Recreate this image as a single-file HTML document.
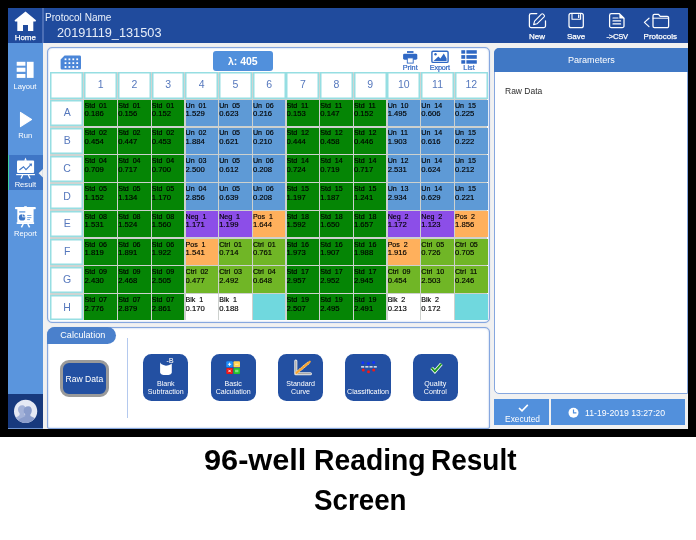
<!DOCTYPE html>
<html lang="en">
<head>
<meta charset="utf-8">
<title>96-well Reading Result Screen</title>
<style>
html,body{margin:0;padding:0;}
body{width:696px;height:540px;position:relative;overflow:hidden;background:#fff;font-family:"Liberation Sans",sans-serif;}
div,span,i,b{box-sizing:border-box;}
.abs{position:absolute;}
#frame{position:absolute;left:0;top:0;width:696px;height:436.6px;background:#000;}
#screen{position:absolute;left:8px;top:8px;width:680px;height:420.9px;background:#f1f1f1;overflow:hidden;}
#hdr{position:absolute;left:8px;top:8px;width:680px;height:34.6px;background:#204b9d;}
#homesep{position:absolute;left:42.1px;top:8px;width:1.6px;height:34.6px;background:#4c6fb6;}
#side{position:absolute;left:8px;top:42.6px;width:34.8px;height:351.4px;background:#5a95dd;}
#act{position:absolute;left:8px;top:155px;width:34.8px;height:35px;background:#3f76c6;border-left:1.3px solid #3fd0a0;}
#sidebot{position:absolute;left:8px;top:393.8px;width:34.9px;height:33.9px;background:#17397d;}
#sidebot2{position:absolute;left:8px;top:427.6px;width:34.9px;height:1px;background:#6d93d0;}
.t{position:absolute;color:#fff;white-space:nowrap;line-height:1;}
.c{transform:translateX(-50%);text-align:center;}
#main{position:absolute;left:47px;top:47px;width:443.3px;height:275.8px;background:#fff;border:1.2px solid #86a7df;border-radius:5px;box-shadow:0 0 1px rgba(110,150,215,.45), inset 0 0 1.6px rgba(110,150,215,.9);}
#tblbg{position:absolute;left:50.1px;top:72.1px;width:437.4px;height:247.8px;background:#cfd4d2;}
.hc{position:absolute;top:72.1px;width:32.8px;height:26.6px;background:#fff;box-shadow:inset 0 0 0 1.5px #96dee2;padding-top:1px;color:#5678bd;font-size:10.5px;line-height:23.9px;text-align:center;}
.rc{position:absolute;left:50.1px;width:32.9px;height:25.8px;background:#fff;box-shadow:inset 0 0 0 1.5px #96dee2;padding-top:1px;color:#5678bd;font-size:10.5px;line-height:23.5px;text-align:center;text-indent:1.2px;}
.dc{position:absolute;width:32.5px;height:26.38px;color:#000;overflow:hidden;white-space:nowrap;}
.dc i{position:absolute;left:0px;top:2.7px;font-style:normal;font-size:7.1px;line-height:7px;word-spacing:1.9px;-webkit-text-stroke:0.15px #000;}
.dc b{position:absolute;left:0px;top:10.5px;font-weight:normal;font-size:7.7px;line-height:8px;-webkit-text-stroke:0.15px #000;}
#lam{position:absolute;left:212.7px;top:51.1px;width:60.3px;height:19.7px;background:#5190dc;border-radius:3px;color:#fff;font-size:10.5px;font-weight:bold;line-height:21.2px;text-align:center;}
.tb{position:absolute;color:#2f64c0;-webkit-text-stroke:0.2px #2f64c0;font-size:7.3px;line-height:1;white-space:nowrap;transform:translateX(-50%);}
#calc{position:absolute;left:47px;top:326.5px;width:443.3px;height:102.5px;background:#fff;border:1.2px solid #86a7df;border-radius:8px 5px 2px 2px;box-shadow:0 0 1px rgba(110,150,215,.45), inset 0 0 1.6px rgba(110,150,215,.9);}
#ctab{position:absolute;text-indent:2.6px;left:47px;top:326.8px;width:69px;height:17.2px;background:#4a80cc;border-radius:8px 9px 9px 0;color:#fff;font-size:9.1px;line-height:17.6px;text-align:center;}
#cline{position:absolute;left:127px;top:337.5px;width:1px;height:80px;background:#b4c9ee;}
#raw{position:absolute;left:60px;top:359.5px;width:48.8px;height:37.8px;background:#2350a2;border:3px solid #9a9a9a;border-radius:9px;color:#fff;font-size:8.6px;line-height:32.6px;text-align:center;white-space:nowrap;}
.cb{position:absolute;top:353.8px;width:45.3px;height:47.3px;background:#2350a2;border-radius:8.5px;}
.cbt{position:absolute;color:#fff;font-size:7.1px;line-height:8.4px;text-align:center;white-space:nowrap;transform:translateX(-50%);}
#rp{position:absolute;left:494.4px;top:47.9px;width:194px;height:346.6px;background:#fff;border:1.2px solid #86a7df;border-radius:5px 0 0 5px;overflow:hidden;}
#rph{position:absolute;left:494.4px;top:47.9px;width:194px;height:24.1px;background:#4078c5;border-radius:5px 0 0 0;color:#fff;font-size:9.05px;line-height:24.1px;text-align:center;}
.st{position:absolute;top:399.1px;height:25.7px;background:#5290dc;}
.cap{position:absolute;font-size:30px;font-weight:bold;color:#000;white-space:nowrap;line-height:1;transform-origin:0 0;}
</style>
</head>
<body>
<div id="frame"></div>
<div id="screen"></div>
<div id="hdr"></div>
<div id="homesep"></div>
<div id="side"></div>
<div id="act"></div>
<div id="sidebot"></div><div id="sidebot2"></div>

<div class="t" style="left:45px;top:13px;font-size:10.05px;color:#eaf0fb;">Protocol Name</div>
<div class="t" style="left:57px;top:27.3px;font-size:12.75px;color:#e6edf9;">20191119_131503</div>

<div class="t c" style="left:25.3px;top:33.9px;font-size:8px;-webkit-text-stroke:0.25px #fff;">Home</div>
<div class="t c" style="left:25px;top:82.7px;font-size:7.6px;">Layout</div>
<div class="t c" style="left:25.3px;top:131.5px;font-size:7.6px;">Run</div>
<div class="t c" style="left:25.4px;top:180.9px;font-size:7.6px;">Result</div>
<div class="t c" style="left:25.4px;top:229.6px;font-size:7.6px;">Report</div>

<div class="t c" style="left:537px;top:33px;font-size:8px;-webkit-text-stroke:0.25px #fff;">New</div>
<div class="t c" style="left:576.1px;top:33px;font-size:8px;-webkit-text-stroke:0.25px #fff;">Save</div>
<div class="t c" style="left:617.2px;top:33px;font-size:7.6px;letter-spacing:-0.25px;-webkit-text-stroke:0.25px #fff;">-&gt;CSV</div>
<div class="t c" style="left:660.3px;top:33px;font-size:8px;-webkit-text-stroke:0.25px #fff;">Protocols</div>

<div id="main"></div>
<div id="tblbg"></div><div class="abs" style="left:83.9px;top:99.1px;width:403.6px;height:220.8px;background:#cdd1ce;"></div>
<div id="lam">λ: 405</div>
<div class="tb" style="left:410.2px;top:64px;">Print</div>
<div class="tb" style="left:439.8px;top:64px;letter-spacing:-0.2px;">Export</div>
<div class="tb" style="left:469px;top:64px;">List</div>
<div class="hc" style="left:50.1px;width:32.9px"></div>
<div class="hc" style="left:84.32px">1</div>
<div class="hc" style="left:118.01px">2</div>
<div class="hc" style="left:151.69px">3</div>
<div class="hc" style="left:185.38px">4</div>
<div class="hc" style="left:219.06px">5</div>
<div class="hc" style="left:252.75px">6</div>
<div class="hc" style="left:286.43px">7</div>
<div class="hc" style="left:320.12px">8</div>
<div class="hc" style="left:353.80px">9</div>
<div class="hc" style="left:387.49px">10</div>
<div class="hc" style="left:421.17px">11</div>
<div class="hc" style="left:454.86px">12</div>
<div class="rc" style="top:100.30px">A</div>
<div class="dc" style="left:84.47px;top:99.80px;background:#058505"><i style="top:3.4px">Std 01</i><b>0.186</b></div>
<div class="dc" style="left:118.16px;top:99.80px;background:#058505"><i style="top:3.4px">Std 01</i><b>0.156</b></div>
<div class="dc" style="left:151.84px;top:99.80px;background:#058505"><i style="top:3.4px">Std 01</i><b>0.152</b></div>
<div class="dc" style="left:185.53px;top:99.80px;background:#5e9ad6"><i style="top:3.4px">Un 01</i><b>1.529</b></div>
<div class="dc" style="left:219.21px;top:99.80px;background:#5e9ad6"><i style="top:3.4px">Un 05</i><b>0.623</b></div>
<div class="dc" style="left:252.90px;top:99.80px;background:#5e9ad6"><i style="top:3.4px">Un 06</i><b>0.216</b></div>
<div class="dc" style="left:286.58px;top:99.80px;background:#058505"><i style="top:3.4px">Std 11</i><b>0.153</b></div>
<div class="dc" style="left:320.27px;top:99.80px;background:#058505"><i style="top:3.4px">Std 11</i><b>0.147</b></div>
<div class="dc" style="left:353.95px;top:99.80px;background:#058505"><i style="top:3.4px">Std 11</i><b>0.152</b></div>
<div class="dc" style="left:387.64px;top:99.80px;background:#5e9ad6"><i style="top:3.4px">Un 10</i><b>1.495</b></div>
<div class="dc" style="left:421.32px;top:99.80px;background:#5e9ad6"><i style="top:3.4px">Un 14</i><b>0.606</b></div>
<div class="dc" style="left:455.01px;top:99.80px;background:#5e9ad6"><i style="top:3.4px">Un 15</i><b>0.225</b></div>
<div class="rc" style="top:128.08px">B</div>
<div class="dc" style="left:84.47px;top:127.58px;background:#058505"><i>Std 02</i><b>0.454</b></div>
<div class="dc" style="left:118.16px;top:127.58px;background:#058505"><i>Std 02</i><b>0.447</b></div>
<div class="dc" style="left:151.84px;top:127.58px;background:#058505"><i>Std 02</i><b>0.453</b></div>
<div class="dc" style="left:185.53px;top:127.58px;background:#5e9ad6"><i>Un 02</i><b>1.884</b></div>
<div class="dc" style="left:219.21px;top:127.58px;background:#5e9ad6"><i>Un 05</i><b>0.621</b></div>
<div class="dc" style="left:252.90px;top:127.58px;background:#5e9ad6"><i>Un 06</i><b>0.210</b></div>
<div class="dc" style="left:286.58px;top:127.58px;background:#058505"><i>Std 12</i><b>0.444</b></div>
<div class="dc" style="left:320.27px;top:127.58px;background:#058505"><i>Std 12</i><b>0.458</b></div>
<div class="dc" style="left:353.95px;top:127.58px;background:#058505"><i>Std 12</i><b>0.446</b></div>
<div class="dc" style="left:387.64px;top:127.58px;background:#5e9ad6"><i>Un 11</i><b>1.903</b></div>
<div class="dc" style="left:421.32px;top:127.58px;background:#5e9ad6"><i>Un 14</i><b>0.616</b></div>
<div class="dc" style="left:455.01px;top:127.58px;background:#5e9ad6"><i>Un 15</i><b>0.222</b></div>
<div class="rc" style="top:155.86px">C</div>
<div class="dc" style="left:84.47px;top:155.36px;background:#058505"><i>Std 04</i><b>0.709</b></div>
<div class="dc" style="left:118.16px;top:155.36px;background:#058505"><i>Std 04</i><b>0.717</b></div>
<div class="dc" style="left:151.84px;top:155.36px;background:#058505"><i>Std 04</i><b>0.700</b></div>
<div class="dc" style="left:185.53px;top:155.36px;background:#5e9ad6"><i>Un 03</i><b>2.500</b></div>
<div class="dc" style="left:219.21px;top:155.36px;background:#5e9ad6"><i>Un 05</i><b>0.612</b></div>
<div class="dc" style="left:252.90px;top:155.36px;background:#5e9ad6"><i>Un 06</i><b>0.208</b></div>
<div class="dc" style="left:286.58px;top:155.36px;background:#058505"><i>Std 14</i><b>0.724</b></div>
<div class="dc" style="left:320.27px;top:155.36px;background:#058505"><i>Std 14</i><b>0.719</b></div>
<div class="dc" style="left:353.95px;top:155.36px;background:#058505"><i>Std 14</i><b>0.717</b></div>
<div class="dc" style="left:387.64px;top:155.36px;background:#5e9ad6"><i>Un 12</i><b>2.531</b></div>
<div class="dc" style="left:421.32px;top:155.36px;background:#5e9ad6"><i>Un 14</i><b>0.624</b></div>
<div class="dc" style="left:455.01px;top:155.36px;background:#5e9ad6"><i>Un 15</i><b>0.212</b></div>
<div class="rc" style="top:183.64px">D</div>
<div class="dc" style="left:84.47px;top:183.14px;background:#058505"><i>Std 05</i><b>1.152</b></div>
<div class="dc" style="left:118.16px;top:183.14px;background:#058505"><i>Std 05</i><b>1.134</b></div>
<div class="dc" style="left:151.84px;top:183.14px;background:#058505"><i>Std 05</i><b>1.170</b></div>
<div class="dc" style="left:185.53px;top:183.14px;background:#5e9ad6"><i>Un 04</i><b>2.856</b></div>
<div class="dc" style="left:219.21px;top:183.14px;background:#5e9ad6"><i>Un 05</i><b>0.639</b></div>
<div class="dc" style="left:252.90px;top:183.14px;background:#5e9ad6"><i>Un 06</i><b>0.208</b></div>
<div class="dc" style="left:286.58px;top:183.14px;background:#058505"><i>Std 15</i><b>1.197</b></div>
<div class="dc" style="left:320.27px;top:183.14px;background:#058505"><i>Std 15</i><b>1.187</b></div>
<div class="dc" style="left:353.95px;top:183.14px;background:#058505"><i>Std 15</i><b>1.241</b></div>
<div class="dc" style="left:387.64px;top:183.14px;background:#5e9ad6"><i>Un 13</i><b>2.934</b></div>
<div class="dc" style="left:421.32px;top:183.14px;background:#5e9ad6"><i>Un 14</i><b>0.629</b></div>
<div class="dc" style="left:455.01px;top:183.14px;background:#5e9ad6"><i>Un 15</i><b>0.221</b></div>
<div class="rc" style="top:211.42px">E</div>
<div class="dc" style="left:84.47px;top:210.92px;background:#058505"><i>Std 08</i><b>1.531</b></div>
<div class="dc" style="left:118.16px;top:210.92px;background:#058505"><i>Std 08</i><b>1.524</b></div>
<div class="dc" style="left:151.84px;top:210.92px;background:#058505"><i>Std 08</i><b>1.560</b></div>
<div class="dc" style="left:185.53px;top:210.92px;background:#8c4ee8"><i>Neg 1</i><b>1.171</b></div>
<div class="dc" style="left:219.21px;top:210.92px;background:#8c4ee8"><i>Neg 1</i><b>1.199</b></div>
<div class="dc" style="left:252.90px;top:210.92px;background:#ffb05c"><i>Pos 1</i><b>1.644</b></div>
<div class="dc" style="left:286.58px;top:210.92px;background:#058505"><i>Std 18</i><b>1.592</b></div>
<div class="dc" style="left:320.27px;top:210.92px;background:#058505"><i>Std 18</i><b>1.650</b></div>
<div class="dc" style="left:353.95px;top:210.92px;background:#058505"><i>Std 18</i><b>1.657</b></div>
<div class="dc" style="left:387.64px;top:210.92px;background:#8c4ee8"><i>Neg 2</i><b>1.172</b></div>
<div class="dc" style="left:421.32px;top:210.92px;background:#8c4ee8"><i>Neg 2</i><b>1.123</b></div>
<div class="dc" style="left:455.01px;top:210.92px;background:#ffb05c"><i>Pos 2</i><b>1.856</b></div>
<div class="rc" style="top:239.20px">F</div>
<div class="dc" style="left:84.47px;top:238.70px;background:#058505"><i style="top:3.4px">Std 06</i><b>1.819</b></div>
<div class="dc" style="left:118.16px;top:238.70px;background:#058505"><i style="top:3.4px">Std 06</i><b>1.891</b></div>
<div class="dc" style="left:151.84px;top:238.70px;background:#058505"><i style="top:3.4px">Std 06</i><b>1.922</b></div>
<div class="dc" style="left:185.53px;top:238.70px;background:#ffb05c"><i style="top:3.4px">Pos 1</i><b>1.541</b></div>
<div class="dc" style="left:219.21px;top:238.70px;background:#70b626"><i style="top:3.4px">Ctrl 01</i><b>0.714</b></div>
<div class="dc" style="left:252.90px;top:238.70px;background:#70b626"><i style="top:3.4px">Ctrl 01</i><b>0.761</b></div>
<div class="dc" style="left:286.58px;top:238.70px;background:#058505"><i style="top:3.4px">Std 16</i><b>1.973</b></div>
<div class="dc" style="left:320.27px;top:238.70px;background:#058505"><i style="top:3.4px">Std 16</i><b>1.907</b></div>
<div class="dc" style="left:353.95px;top:238.70px;background:#058505"><i style="top:3.4px">Std 16</i><b>1.988</b></div>
<div class="dc" style="left:387.64px;top:238.70px;background:#ffb05c"><i style="top:3.4px">Pos 2</i><b>1.916</b></div>
<div class="dc" style="left:421.32px;top:238.70px;background:#70b626"><i style="top:3.4px">Ctrl 05</i><b>0.726</b></div>
<div class="dc" style="left:455.01px;top:238.70px;background:#70b626"><i style="top:3.4px">Ctrl 05</i><b>0.705</b></div>
<div class="rc" style="top:266.98px">G</div>
<div class="dc" style="left:84.47px;top:266.48px;background:#058505"><i>Std 09</i><b>2.430</b></div>
<div class="dc" style="left:118.16px;top:266.48px;background:#058505"><i>Std 09</i><b>2.468</b></div>
<div class="dc" style="left:151.84px;top:266.48px;background:#058505"><i>Std 09</i><b>2.505</b></div>
<div class="dc" style="left:185.53px;top:266.48px;background:#70b626"><i>Ctrl 02</i><b>0.477</b></div>
<div class="dc" style="left:219.21px;top:266.48px;background:#70b626"><i>Ctrl 03</i><b>2.492</b></div>
<div class="dc" style="left:252.90px;top:266.48px;background:#70b626"><i>Ctrl 04</i><b>0.648</b></div>
<div class="dc" style="left:286.58px;top:266.48px;background:#058505"><i>Std 17</i><b>2.957</b></div>
<div class="dc" style="left:320.27px;top:266.48px;background:#058505"><i>Std 17</i><b>2.952</b></div>
<div class="dc" style="left:353.95px;top:266.48px;background:#058505"><i>Std 17</i><b>2.945</b></div>
<div class="dc" style="left:387.64px;top:266.48px;background:#70b626"><i>Ctrl 09</i><b>0.454</b></div>
<div class="dc" style="left:421.32px;top:266.48px;background:#70b626"><i>Ctrl 10</i><b>2.503</b></div>
<div class="dc" style="left:455.01px;top:266.48px;background:#70b626"><i>Ctrl 11</i><b>0.246</b></div>
<div class="rc" style="top:294.76px;height:24.9px">H</div>
<div class="dc" style="left:84.47px;top:294.26px;height:25.64px;background:#058505"><i>Std 07</i><b>2.776</b></div>
<div class="dc" style="left:118.16px;top:294.26px;height:25.64px;background:#058505"><i>Std 07</i><b>2.879</b></div>
<div class="dc" style="left:151.84px;top:294.26px;height:25.64px;background:#058505"><i>Std 07</i><b>2.861</b></div>
<div class="dc" style="left:185.53px;top:294.26px;height:25.64px;background:#ffffff"><i>Blk 1</i><b>0.170</b></div>
<div class="dc" style="left:219.21px;top:294.26px;height:25.64px;background:#ffffff"><i>Blk 1</i><b>0.188</b></div>
<div class="dc" style="left:252.90px;top:294.26px;height:25.64px;background:#70d8de"></div>
<div class="dc" style="left:286.58px;top:294.26px;height:25.64px;background:#058505"><i>Std 19</i><b>2.507</b></div>
<div class="dc" style="left:320.27px;top:294.26px;height:25.64px;background:#058505"><i>Std 19</i><b>2.495</b></div>
<div class="dc" style="left:353.95px;top:294.26px;height:25.64px;background:#058505"><i>Std 19</i><b>2.491</b></div>
<div class="dc" style="left:387.64px;top:294.26px;height:25.64px;background:#ffffff"><i>Blk 2</i><b>0.213</b></div>
<div class="dc" style="left:421.32px;top:294.26px;height:25.64px;background:#ffffff"><i>Blk 2</i><b>0.172</b></div>
<div class="dc" style="left:455.01px;top:294.26px;height:25.64px;background:#70d8de"></div>

<div id="calc"></div>
<div id="ctab">Calculation</div>
<div id="cline"></div>
<div id="raw">Raw Data</div>
<div class="cb" style="left:143.1px"></div>
<div class="cb" style="left:210.5px"></div>
<div class="cb" style="left:277.9px"></div>
<div class="cb" style="left:345.4px"></div>
<div class="cb" style="left:412.7px"></div>
<div class="cbt" style="left:165.8px;top:379.8px;">Blank<br>Subtraction</div>
<div class="cbt" style="left:233.2px;top:379.8px;">Basic<br>Calculation</div>
<div class="cbt" style="left:300.6px;top:379.8px;">Standard<br>Curve</div>
<div class="cbt" style="left:368px;top:388.2px;">Classification</div>
<div class="cbt" style="left:435.3px;top:379.8px;">Quality<br>Control</div>

<div id="rp"></div>
<div id="rph">Parameters</div>
<div class="t" style="left:505px;top:86.8px;font-size:8.5px;color:#2e2e2e;">Raw Data</div>
<div class="st" style="left:494.4px;width:54.4px;"></div>
<div class="st" style="left:551.2px;width:134px;"></div>
<div class="t c" style="left:522.5px;top:415px;font-size:8.4px;">Executed</div>
<div class="t" style="left:585px;top:408.5px;font-size:8.7px;">11-19-2019 13:27:20</div>

<div id="blackbot" class="abs" style="left:0;top:428.9px;width:696px;height:7.7px;background:#000;"></div>
<div id="blackright" class="abs" style="left:688px;top:0;width:8px;height:436.6px;background:#000;"></div>
<div class="abs" style="left:0;top:436.6px;width:696px;height:103.4px;background:#fff;"></div>

<div class="cap" style="left:203.7px;top:445px;transform:scaleX(1.023);">96-well</div>
<div class="cap" style="left:313.6px;top:445px;transform:scaleX(.943);">Reading</div>
<div class="cap" style="left:431.1px;top:445px;transform:scaleX(.933);">Result</div>
<div class="cap" style="left:314.1px;top:485.4px;transform:scaleX(.925);">Screen</div>

<svg class="abs" style="left:0;top:0;" width="696" height="540" viewBox="0 0 696 540">
<!-- home -->
<g fill="#fff">
<path d="M25.5,11.5 L36,20.3 L35.6,21.4 L33.3,21.4 L33.3,31 L28,31 L28,25 L23,25 L23,31 L17.3,31 L17.3,21.4 L15,21.4 L14.6,20.3 Z"/>
<!-- layout -->
<rect x="16.7" y="61.8" width="8.7" height="3.9"/>
<rect x="16.7" y="67.7" width="8.7" height="4.1"/>
<rect x="16.7" y="74" width="8.7" height="3.9"/>
<rect x="26.9" y="61.8" width="6.7" height="16.1"/>
<!-- run -->
<path d="M20.5,112.4 L31.5,119.5 L20.5,126.6 Z" stroke="#fff" stroke-width="1.1" stroke-linejoin="round"/>
</g>
<!-- result -->
<g>
<path d="M38.6,173.2 L42.9,169 L42.9,177.4 Z" fill="#f1f1f1"/>
<rect x="17" y="160.6" width="17.1" height="12.3" rx="1" fill="#fff"/>
<path d="M24.2,160.8 L25.5,157.6 L26.8,160.8 Z" fill="#fff"/>
<rect x="16.2" y="174" width="18.7" height="1.2" fill="#fff"/>
<path d="M22.6,175 L21,178.6 M28.4,175 L30,178.6" stroke="#fff" stroke-width="1.3" fill="none"/>
<path d="M19.4,170 L23.5,166.7 L26,169.6 L30.6,164.9" stroke="#3f76c6" stroke-width="1.1" fill="none"/>
<path d="M28.9,163.7 L32,163.5 L31.7,166.6 Z" fill="#3f76c6"/>
</g>
<!-- report -->
<g>
<rect x="15" y="207.1" width="20.8" height="2.1" rx="0.8" fill="#fff"/>
<rect x="24.2" y="206.2" width="2.6" height="1.4" fill="#fff"/>
<rect x="17.3" y="208.8" width="16.3" height="13.8" fill="#fff"/>
<rect x="16.7" y="222.2" width="17.4" height="1.8" fill="#fff"/>
<path d="M23.2,224 L21.4,227.3 M27.8,224 L29.6,227.3" stroke="#fff" stroke-width="1.5" fill="none"/>
<circle cx="22.1" cy="217.4" r="3.2" fill="#3f78c8"/>
<path d="M22.3,217.2 L22.3,213.6 A3.7,3.7 0 0 1 25.9,217.2 Z" fill="#fff"/>
<path d="M22.9,216.6 L22.9,214.3 A2.8,2.8 0 0 1 25.2,216.6 Z" fill="#3f78c8"/>
<path d="M19.2,211.9 H25.3" stroke="#5f97dc" stroke-width="1.3" fill="none"/>
<path d="M27.2,215.5 H31.4 M27.2,217.6 H31.4 M27.2,219.6 H30" stroke="#6a9fe0" stroke-width="0.9" fill="none"/>
</g>
<!-- avatar -->
<g>
<clipPath id="avc"><circle cx="25.6" cy="411.3" r="11.6"/></clipPath>
<circle cx="25.6" cy="411.3" r="11.6" fill="#e5e9f4"/>
<g clip-path="url(#avc)">
<path d="M22.4,405.2 c2,0 3,1.6 3,3.6 c0,1.8 -0.6,3 -1.2,3.8 v1.6 l3,1.6 v8 h-14 v-5 l5,-2.6 l1.4,-1.2 v-1.8 c-0.8,-0.8 -1.6,-2.2 -1.6,-4 c0,-2.2 1.6,-4 4.4,-4 z" fill="#a3b2d8"/>
<path d="M28.3,406.2 c2.4,0 3.5,1.8 3.5,4 c0,1.9 -0.7,3.3 -1.4,4.1 v1.7 l5.2,2.6 l2,1.4 v4 h-20 v-3.6 l2.4,-1.6 l5.2,-2.6 v-1.8 c-0.8,-0.8 -1.5,-2.2 -1.5,-4 c0,-2.3 1.6,-4.2 4.6,-4.2 z" fill="#8a9dcc"/>
</g>
</g>
<!-- header toolbar -->
<g fill="none" stroke="#fff" stroke-width="1.25" stroke-linejoin="round" stroke-linecap="round">
<path d="M536.8,13.5 H531.2 a1.8,1.8 0 0 0 -1.8,1.8 V25.8 a1.8,1.8 0 0 0 1.8,1.8 H543.7 a1.8,1.8 0 0 0 1.8,-1.8 V20.8"/>
<path d="M533.6,24.6 L534.6,21.2 L541.4,14.2 a1.3,1.3 0 0 1 1.8,0 l0.9,0.9 a1.3,1.3 0 0 1 0,1.8 L537,23.8 Z" stroke-width="1.1"/>
<rect x="569" y="13.4" width="14.3" height="14.3" rx="2"/>
<path d="M572,13.6 V19.2 H580.6 V13.6" stroke-width="1.1"/>
<path d="M578.7,15 V17.4" stroke-width="1.3"/>
<path d="M619.4,13.6 H611.4 a1.8,1.8 0 0 0 -1.8,1.8 V25.9 a1.8,1.8 0 0 0 1.8,1.8 H622.2 a1.8,1.8 0 0 0 1.8,-1.8 V18.2 Z"/>
<path d="M613,18 H618 M613,20.9 H620.6 M613,23.9 H620.6" stroke-width="1.2"/>
<path d="M649,18.2 L644.4,22.4 L649,26.6" stroke-width="1.2"/>
<path d="M653,26.2 V15.8 a1.4,1.4 0 0 1 1.4,-1.4 H658.6 l1.6,2 H667.2 a1.4,1.4 0 0 1 1.4,1.4 V26.2 a1.4,1.4 0 0 1 -1.4,1.4 H654.4 a1.4,1.4 0 0 1 -1.4,-1.4 Z"/>
<path d="M653,18.2 H668.6" stroke-width="1"/>
</g>
<path d="M619.4,13.4 L624.4,18.4 H619.4 Z" fill="#fff"/>
<!-- plate -->
<path d="M64.6,55.4 H79.6 a1.4,1.4 0 0 1 1.4,1.4 V68.2 a1.4,1.4 0 0 1 -1.4,1.4 H62 a1.4,1.4 0 0 1 -1.4,-1.4 V59.4 Z" fill="#4b86d8"/>
<g fill="#fff">
<rect x="64.6" y="58.4" width="1.8" height="1.8"/><rect x="68.5" y="58.4" width="1.8" height="1.8"/><rect x="72.4" y="58.4" width="1.8" height="1.8"/><rect x="76.3" y="58.4" width="1.8" height="1.8"/>
<rect x="64.6" y="62.2" width="1.8" height="1.8"/><rect x="68.5" y="62.2" width="1.8" height="1.8"/><rect x="72.4" y="62.2" width="1.8" height="1.8"/><rect x="76.3" y="62.2" width="1.8" height="1.8"/>
<rect x="64.6" y="66.1" width="1.8" height="1.8"/><rect x="68.5" y="66.1" width="1.8" height="1.8"/><rect x="72.4" y="66.1" width="1.8" height="1.8"/><rect x="76.3" y="66.1" width="1.8" height="1.8"/>
</g>
<!-- print -->
<g>
<rect x="407" y="51.1" width="6.5" height="1.8" fill="#2f68c4"/>
<rect x="403.1" y="53.7" width="14.2" height="6" rx="1.4" fill="#2f68c4"/>
<rect x="407.3" y="57.9" width="5.9" height="5.2" fill="#fff" stroke="#2f68c4" stroke-width="0.9"/>
<!-- export -->
<rect x="431.9" y="51.2" width="16.2" height="11.2" rx="1.2" fill="#fff" stroke="#2f68c4" stroke-width="1.4"/>
<circle cx="435.5" cy="54.2" r="1.2" fill="#2f68c4"/>
<path d="M433.6,61 L438.4,56.6 L440.4,58.4 L443.8,53.6 L446.6,58.4 V61 Z" fill="#2f68c4"/>
<!-- list -->
<g fill="#2f68c4">
<rect x="461.3" y="50.2" width="3.9" height="3.5"/><rect x="466.4" y="50.2" width="10.4" height="3.5"/>
<rect x="461.3" y="55.1" width="3.9" height="3.7"/><rect x="466.4" y="55.1" width="10.4" height="3.7"/>
<rect x="461.3" y="60.2" width="3.9" height="3.5"/><rect x="466.4" y="60.2" width="10.4" height="3.5"/>
</g>
</g>
<!-- calc icons -->
<g>
<path d="M160.1,362.3 Q160.3,364.6 166,365.7 Q171.6,364.8 171.8,363.3 V372.4 Q171.6,374.9 166,375 Q160.3,374.9 160.1,372.4 Z" fill="#fff"/>
<text x="166.6" y="363.3" font-family="Liberation Sans, sans-serif" font-size="6.8" font-weight="bold" fill="#d2d7e4">-B</text>
<!-- basic -->
<rect x="226.3" y="361.3" width="6.5" height="6" rx="0.9" fill="#1f90fb"/>
<rect x="233.5" y="361.3" width="6.5" height="6" rx="0.9" fill="#ffd250"/>
<rect x="226.3" y="367.9" width="6.5" height="6.1" rx="0.9" fill="#ee1414"/>
<rect x="233.5" y="367.9" width="6.5" height="6.1" rx="0.9" fill="#24c32a"/>
<path d="M227.9,364.3 H231.2 M229.55,362.7 V365.9 M228.3,369.7 L230.8,372.2 M230.8,369.7 L228.3,372.2" stroke="#fff" stroke-width="0.9" fill="none"/>
<path d="M235.1,364.3 H238.4" stroke="#fff3c8" stroke-width="0.8" fill="none"/>
<path d="M235.1,370.3 H238.4 M235.1,371.7 H238.4" stroke="#c8f5c8" stroke-width="0.7" fill="none"/>
<!-- std curve -->
<path d="M295.8,361 V373.7 H310.4" stroke="#e6e6e6" stroke-width="3.1" fill="none" stroke-linecap="round" stroke-linejoin="round"/>
<path d="M295.8,361 V373.7 H310.4" stroke="#a9a9a9" stroke-width="1.2" fill="none" stroke-linecap="round" stroke-linejoin="round"/>
<path d="M296.4,372.9 L309.8,361.7" stroke="#fbe3b8" stroke-width="3" fill="none" stroke-linecap="round" stroke-dasharray="0.1 2.4"/>
<path d="M296.4,372.9 L309.8,361.7" stroke="#f7a535" stroke-width="2.1" fill="none" stroke-linecap="round"/>
<!-- classification -->
<path d="M361.1,366.9 H376.8" stroke="#fff" stroke-width="1.2" stroke-dasharray="3.1 1.1" fill="none"/>
<circle cx="362.9" cy="362.8" r="1.5" fill="#1030ff"/><circle cx="368.4" cy="363.6" r="1.5" fill="#1030ff"/><circle cx="373.7" cy="362.4" r="1.5" fill="#1030ff"/>
<circle cx="363.3" cy="369.9" r="1.5" fill="#f01818"/><circle cx="368.5" cy="371.7" r="1.5" fill="#f01818"/><circle cx="373.7" cy="370" r="1.5" fill="#f01818"/>
<!-- quality -->
<path d="M431.6,367.8 L434.9,371.4 L441.4,363.9" stroke="#fff" stroke-width="3.4" fill="none" stroke-linejoin="miter"/>
<path d="M431.6,367.8 L434.9,371.4 L441.4,363.9" stroke="#1f9a1f" stroke-width="1.9" fill="none"/>
</g>
<!-- status -->
<path d="M519,408 L522,410.8 L527.8,404.9" stroke="#fff" stroke-width="1.6" fill="none"/>
<circle cx="573.5" cy="412.7" r="5" fill="#fff"/>
<path d="M573.5,409.6 V412.9 H576.4" stroke="#5290dc" stroke-width="1.2" fill="none"/>

</svg>
</body>
</html>
